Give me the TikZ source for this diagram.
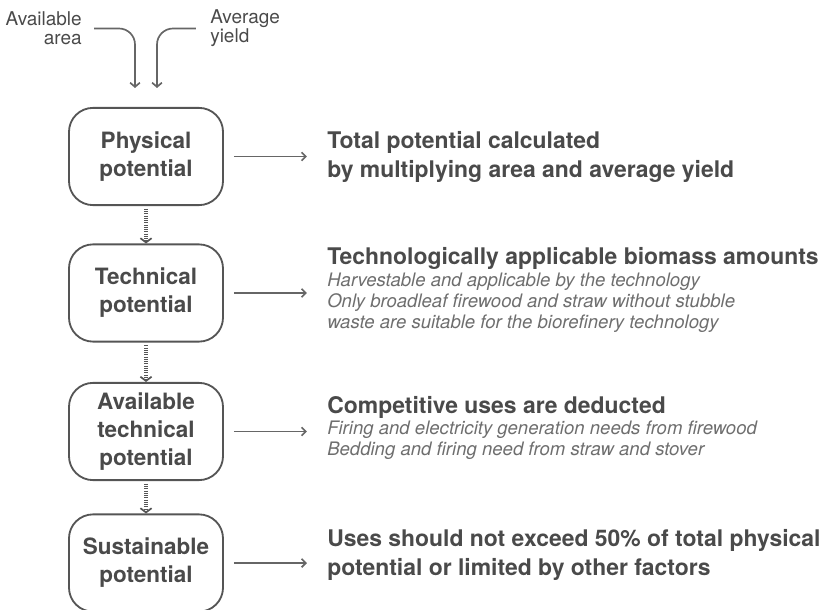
\documentclass[tikz,border=0pt]{standalone}
\usepackage{fontspec}
\setmainfont{TeX Gyre Heros}
\usetikzlibrary{arrows.meta, positioning}

\definecolor{boxgray}{HTML}{555555}
\definecolor{linegray}{HTML}{666666}
\definecolor{textgray}{HTML}{4A4A4A}
\definecolor{notegray}{HTML}{6E6E6E}

\begin{document}
\begin{tikzpicture}[x=0.025cm, y=-0.025cm,
  potbox/.style={draw=boxgray, line width=1.3pt, rounded corners=0.6cm,
    minimum width=3.85cm, minimum height=2.43cm, align=center,
    text=textgray, font=\fontsize{16}{20}\selectfont\bfseries},
  desc/.style={anchor=west, inner sep=0pt, align=left, text=textgray,
    font=\fontsize{16.3}{20}\selectfont\bfseries},
  note/.style={anchor=north west, inner sep=0pt, align=left, text=notegray,
    font=\fontsize{13.2}{15}\selectfont\itshape},
  inlabel/.style={inner sep=0pt, text=textgray, font=\fontsize{13.5}{13.5}\selectfont},
  inarr/.style={draw=linegray, line width=1.2pt, rounded corners=0.4cm,
    -{Straight Barb[length=3pt, width=7pt]}},
  harr/.style={draw=linegray, line width=1.2pt, shorten <=0.25cm, shorten >=0.5cm,
    -{Straight Barb[length=3pt, width=6pt]}},
  dotarr/.style={draw=boxgray, line width=2.4pt, dash pattern=on 0.8pt off 0.8pt,
    shorten <=2pt, -{Straight Barb[length=3pt, width=8pt, line width=1.2pt]}}]

  \useasboundingbox (0,0) rectangle (823,610);

  % Inputs
  \node[inlabel, anchor=east, align=right] (area) at (82,28.5) {Available\\area};
  \node[inlabel, anchor=west, align=left] (yield) at (210,28.5) {Average\\yield};
  \coordinate (areaend) at (135,88);
  \coordinate (yieldend) at (157,88);
  \draw[inarr, shorten <=0.3cm] (area.east) -| (areaend);
  \draw[inarr, shorten <=0.35cm] (yield.west) -| (yieldend);

  % Potential boxes
  \node[potbox] (phys) at (146,156.5) {Physical\\potential};
  \node[potbox] (tech) at (146,293) {Technical\\potential};
  \node[potbox] (avail) at (146,431.5) {Available\\technical\\potential};
  \node[potbox] (sust) at (146,563) {Sustainable\\potential};

  % Dotted steps
  \draw[dotarr] (phys) -- (tech);
  \draw[dotarr] (tech) -- (avail);
  \draw[dotarr] (avail) -- (sust);

  % Descriptions
  \node[desc] (physdesc) at (327,157) {Total potential calculated\\by multiplying area and average yield};
  \node[desc] (techhead) at (327,258) {Technologically applicable biomass amounts};
  \node[note] (technote) at (327,273) {Harvestable and applicable by the technology\\Only broadleaf firewood and straw without stubble\\waste are suitable for the biorefinery technology};
  \node[desc] (availhead) at (327,407) {Competitive uses are deducted};
  \node[note] (availnote) at (327,421) {Firing and electricity generation needs from firewood\\Bedding and firing need from straw and stover};
  \node[desc] (sustdesc) at (327,555) {Uses should not exceed 50\% of total physical\\potential or limited by other factors};

  % Arrows to descriptions
  \draw[harr] (phys.east) -- (phys.east -| physdesc.west);
  \draw[harr] (tech.east) -- (tech.east -| techhead.west);
  \draw[harr] (avail.east) -- (avail.east -| availhead.west);
  \draw[harr] (sust.east) -- (sust.east -| sustdesc.west);

\end{tikzpicture}
\end{document}
